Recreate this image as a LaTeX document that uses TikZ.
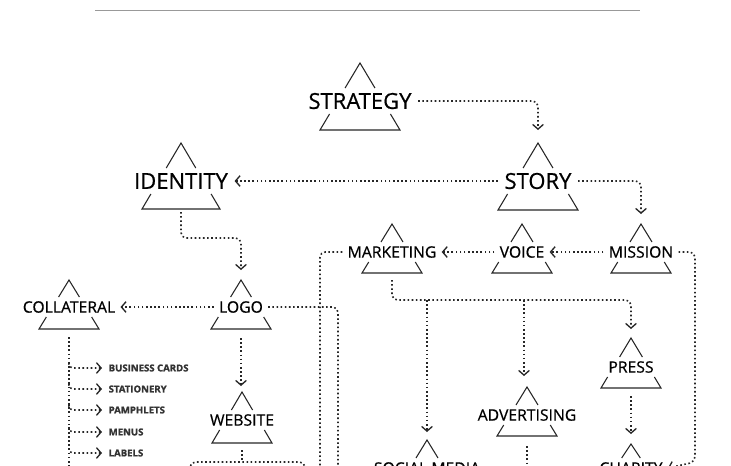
\documentclass[tikz,border=0pt]{standalone}
\usepackage{fontspec}
\setmainfont[FakeBold=1.2]{Open Sans}
\newfontfamily\medfont[FakeBold=0.6]{Open Sans}
\usetikzlibrary{arrows.meta}
\tikzset{
  big/.style={font=\medfont\fontsize{16.5}{18}\selectfont, inner sep=1pt, outer sep=4pt},
  sml/.style={font=\medfont\fontsize{11.8}{13}\selectfont, inner sep=1pt, outer sep=3pt},
  lst/.style={font=\bfseries\fontsize{7.2}{8}\selectfont, inner sep=0pt, outer sep=5pt, anchor=west, text=black!80},
  tri/.style={line width=0.8pt, black!85},
  con/.style={line width=1.2pt, dash pattern=on 1.2pt off 1.9pt, black!85, rounded corners=4pt},
  arr/.style={con, -{Straight Barb[length=3.5pt,width=8pt,line width=1pt]}}
}
% \tnode{name}{x}{y}{text}{apex}{base}{halfwidth}{gap}{style}
\newcommand\tnode[9]{%
  \node[#9] (#1) at (#2,#3) {#4};
  \pgfmathsetmacro\ta{#3-#5}\pgfmathsetmacro\tb{#3+#6}
  \pgfmathsetmacro\tg{#3-#8}\pgfmathsetmacro\th{#3+#8}
  \pgfmathsetmacro\du{#7*(#5-#8)/(#5+#6)}
  \pgfmathsetmacro\dl{#7*(#5+#8)/(#5+#6)}
  \draw[tri] (#2-\du,\tg) -- (#2,\ta) -- (#2+\du,\tg);
  \draw[tri] (#2-\dl,\th) -- (#2-#7,\tb) -- (#2+#7,\tb) -- (#2+\dl,\th);
}
\begin{document}
\begin{tikzpicture}[x=0.75pt,y=-0.75pt]
\useasboundingbox (0,0) rectangle (731,465);
\clip (0,0) rectangle (731,465);
\draw[black!40, line width=0.6pt] (95,10) -- (640,10);
\tnode{strategy}{360}{101}{STRATEGY}{38}{29}{40}{13}{big}
\tnode{identity}{181}{181}{IDENTITY}{38}{28}{39}{13}{big}
\tnode{story}{538}{181}{STORY}{38}{29}{40}{13}{big}
\tnode{marketing}{392}{252}{MARKETING}{28}{21}{30}{10}{sml}
\tnode{voice}{522}{252}{VOICE}{28}{21}{30}{10}{sml}
\tnode{mission}{641}{252}{MISSION}{28}{21}{30}{10}{sml}
\tnode{collateral}{69}{307}{COLLATERAL}{27}{22}{30}{10}{sml}
\tnode{logo}{241}{307}{LOGO}{27}{22}{30}{10}{sml}
\tnode{website}{242}{420}{WEBSITE}{28}{23}{30}{10}{sml}
\tnode{press}{631}{367}{PRESS}{29}{21}{30}{10}{sml}
\tnode{advertising}{527}{415}{ADVERTISING}{28}{21}{30}{10}{sml}
\tnode{social}{427}{468}{SOCIAL MEDIA}{28}{21}{30}{10}{sml}
\tnode{charity}{631}{468}{CHARITY}{24}{21}{30}{10}{sml}
% connectors
\draw[arr] (strategy.east) -- (538,101) -- (538,130);
\draw[arr] (story.west) -- (identity.east);
\draw[arr] (story.east) -- (641,181) -- (641,214);
\draw[arr] (181,212) -- (181,238) -- (241,238) -- (241,270);
\draw[arr] (mission.west) -- (voice.east);
\draw[arr] (voice.west) -- (marketing.east);
\draw[con] (marketing.west) -- (320,252) -- (320,470);
\draw[arr] (mission.east) -- (695,252) -- (695,462) -- (charity.east);
\draw[arr] (392,280) -- (392,300) -- (631,300) -- (631,329);
\draw[arr] (427,300) -- (427,432);
\draw[arr] (524,300) -- (524,376);
\draw[con] (527,446) -- (527,470);
\draw[arr] (631,396) -- (631,434);
\draw[con] (logo.east) -- (338,307) -- (338,470);
\draw[arr] (logo.west) -- (collateral.east);
\draw[arr] (241,338) -- (241,386);
\draw[con] (69,337) -- (69,470);
\draw[con] (242,450) -- (242,462);
\draw[con] (190,470) -- (190,462) -- (305,462) -- (305,470);
\foreach \y/\t [count=\i] in {368/BUSINESS CARDS,389/STATIONERY,410/PAMPHLETS,432/MENUS,453/LABELS}{
  \coordinate (c\i) at (69,\y-5);
  \node[lst] (l\i) at (102,\y) {\t};
  \draw[arr, rounded corners=3pt] (c\i) -- (69,\y) -- (l\i.west);
}
\end{tikzpicture}
\end{document}
